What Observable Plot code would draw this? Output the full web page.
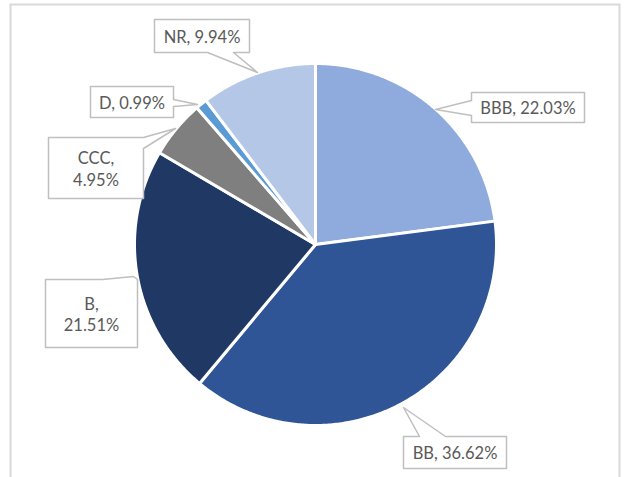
<!DOCTYPE html>
<html>
<head>
<meta charset="utf-8">
<script src="https://cdn.jsdelivr.net/npm/d3@7"></script>
<script src="https://cdn.jsdelivr.net/npm/@observablehq/plot@0.6"></script>
<style>
  html, body { margin: 0; padding: 0; background: #fff; }
  #chart svg { display: block; }
</style>
</head>
<body>
<div id="chart"></div>
<script>
// ---- data ----
const ratings = ["BBB", "BB", "B", "CCC", "D", "NR"];
const shares = [22.03, 36.62, 21.51, 4.95, 0.99, 9.94];
const sliceColors = ["#8FAADC", "#2F5597", "#203864", "#7F7F7F", "#5B9BD5", "#B4C7E7"];
const twoLineLabel = [false, false, true, true, false, false];

// ---- layout (pixels) ----
const W = 625, H = 477;
const pie = {cx: 315, cy: 244, r: 181};
// callout boxes: [x0,y0,x1,y1], side of wedge, wedge base a..b, tip point
const callouts = [
  {box: [471, 92, 584, 122], side: "left", a: 100, b: 115, tip: [435, 109]},
  {box: [403, 436, 506, 468], side: "top", a: 419, b: 445, tip: [403, 407]},
  {box: [45, 279, 137, 347], side: "top", a: 102, b: 137, tip: [133, 276]},
  {box: [48, 137, 143, 198], side: "right", a: 137, b: 148, tip: [175, 128]},
  {box: [90, 86, 173, 117], side: "right", a: 99, b: 106, tip: [197, 104]},
  {box: [154, 19, 249, 52], side: "bottom", a: 207, b: 233, tip: [257, 72]}
];

const rows = ratings.map((r, i) => ({rating: r, value: shares[i], i}));
const arcs = d3.pie().sort(null).value(d => d.value)(rows);

// slice polygons
const slicePts = [];
for (const a of arcs) {
  const rating = a.data.rating;
  slicePts.push({rating, x: pie.cx, y: pie.cy});
  const n = Math.max(4, Math.ceil((a.endAngle - a.startAngle) / 0.01));
  for (let k = 0; k <= n; k++) {
    const t = a.startAngle + (a.endAngle - a.startAngle) * k / n;
    slicePts.push({rating, x: pie.cx + pie.r * Math.sin(t), y: pie.cy - pie.r * Math.cos(t)});
  }
}

// callout polygons
const calloutPts = [];
const labels = [];
callouts.forEach((c, i) => {
  const [x0, y0, x1, y1] = c.box;
  const {side, a, b, tip} = c;
  const id = ratings[i];
  const pts = [];
  pts.push([x0, y0]);
  if (side === "top") pts.push([a, y0], tip, [b, y0]);
  pts.push([x1, y0]);
  if (side === "right") pts.push([x1, a], tip, [x1, b]);
  pts.push([x1, y1]);
  if (side === "bottom") pts.push([b, y1], tip, [a, y1]);
  pts.push([x0, y1]);
  if (side === "left") pts.push([x0, b], tip, [x0, a]);
  pts.forEach(([x, y]) => calloutPts.push({id, x, y}));
  const txt = `${ratings[i]},${twoLineLabel[i] ? "\n" : " "}${shares[i].toFixed(2)}%`;
  labels.push({x: (x0 + x1) / 2, y: (y0 + y1) / 2, text: txt});
});

const chart = Plot.plot({
  width: W,
  height: H,
  margin: 0,
  x: {domain: [0, W], range: [0, W], axis: null},
  y: {domain: [0, H], range: [0, H], axis: null},
  color: {domain: ratings, range: sliceColors},
  style: {fontFamily: "Lato, sans-serif", background: "#fff"},
  marks: [
    Plot.frame({stroke: "#D9D9D9", strokeWidth: 2, insetLeft: 10, insetTop: 4, insetRight: 6, insetBottom: -6}),
    Plot.line(slicePts, {x: "x", y: "y", z: "rating", fill: "rating", stroke: "white", strokeWidth: 3, strokeLinejoin: "round", curve: "linear-closed"}),
    Plot.line(calloutPts, {x: "x", y: "y", z: "id", fill: "white", stroke: "#BFBFBF", strokeWidth: 1.5, curve: "linear-closed"}),
    Plot.text(labels, {x: "x", y: "y", text: "text", fill: "#595959", fontSize: 16.5, lineHeight: 1.3, textAnchor: "middle"})
  ]
});
document.getElementById("chart").appendChild(chart);
</script>
</body>
</html>
